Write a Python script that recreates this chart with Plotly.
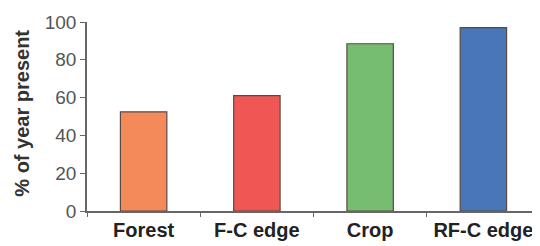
import plotly.graph_objects as go

categories = ["Forest", "F-C edge", "Crop", "RF-C edge"]
values = [52.5, 61, 88.5, 97]
colors = ["#F4895A", "#EE5753", "#77BD71", "#4876B6"]
y_ticks = [0, 20, 40, 60, 80, 100]
y_title = "% of year present"

fig = go.Figure(go.Bar(
    x=categories, y=values, width=0.41,
    marker=dict(color=colors, line=dict(color="#5a4a44", width=1.2)),
))

# page body has an 8px margin, so the figure is sized 532x238
fig.update_layout(
    width=532, height=238,
    margin=dict(l=79, r=0, t=14, b=35, autoexpand=False),
    paper_bgcolor="white", plot_bgcolor="white",
    showlegend=False,
    font=dict(family="Liberation Sans, Arial, sans-serif"),
)
fig.update_xaxes(
    automargin=False,
    showline=True, linecolor="#666", linewidth=1.5,
    ticks="outside", tickson="boundaries", ticklen=4, tickcolor="#666",
    tickfont=dict(size=20, color="#222", family="Liberation Sans, Arial, sans-serif", weight="bold"),
    showgrid=False,
)
fig.update_yaxes(
    automargin=False,
    range=[0, 100], tickvals=y_ticks,
    showline=True, linecolor="#666", linewidth=1.5,
    ticks="outside", ticklen=5, tickcolor="#666",
    tickfont=dict(size=19, color="#555"),
    showgrid=False, zeroline=False,
)
fig.add_annotation(
    text=y_title, xref="paper", yref="paper", x=-0.1435, y=0.52,
    xanchor="center", yanchor="middle", textangle=-90, showarrow=False,
    font=dict(size=20, color="#333", weight="bold"),
)

fig.write_html("out.html")
